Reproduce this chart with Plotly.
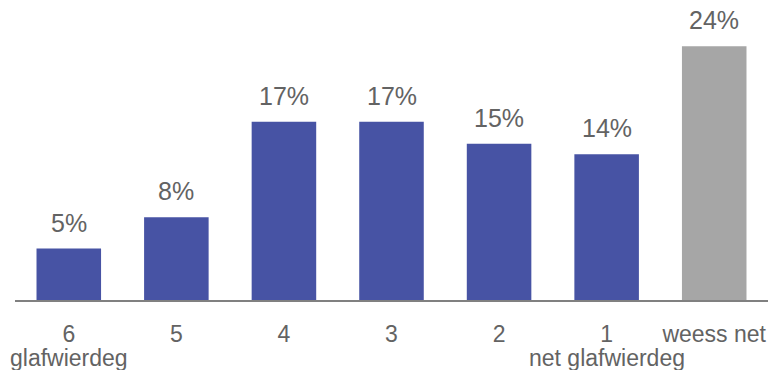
import plotly.graph_objects as go

categories = ["6", "5", "4", "3", "2", "1", "weess net"]
sublabels = ["glafwierdeg", "", "", "", "", "net glafwierdeg", ""]
values = [4.9, 7.9, 17.0, 17.0, 14.9, 13.9, 24.2]
labels = ["5%", "8%", "17%", "17%", "15%", "14%", "24%"]
colors = ["#4753A4"] * 6 + ["#A6A6A6"]

TEXT = "#636363"
FONT = "Liberation Sans, Arial"

fig = go.Figure(go.Bar(
    x=categories, y=values,
    marker=dict(color=colors, line=dict(width=0)),
    hoverinfo="skip",
))

for i, (v, t) in enumerate(zip(values, labels)):
    fig.add_annotation(x=i, y=v, text=t, showarrow=False, yanchor="bottom",
                       yshift=10, font=dict(family=FONT, size=25, color=TEXT))

for i, s in enumerate(sublabels):
    if s:
        fig.add_annotation(x=i, xref="x", y=0, yref="paper", text=s, showarrow=False,
                           yanchor="middle", yshift=-58,
                           font=dict(family=FONT, size=23, color=TEXT))

fig.update_layout(
    width=771, height=370,
    margin=dict(l=15, r=3, t=0, b=70, autoexpand=False),
    paper_bgcolor="white", plot_bgcolor="white",
    bargap=0.4, showlegend=False,
    font=dict(family=FONT, color=TEXT),
    xaxis=dict(type="category", categoryorder="array", categoryarray=categories,
               range=[-0.5, len(categories) - 0.5],
               tickmode="array", tickvals=categories, ticktext=categories,
               tickangle=0, automargin=False, ticklabelstandoff=12,
               showline=True, linecolor="#808080", linewidth=2, ticks="",
               tickfont=dict(size=23, color=TEXT), showgrid=False),
    yaxis=dict(range=[0, 28.6], visible=False, showgrid=False, zeroline=False),
)

fig.write_html("out.html", config={"displayModeBar": False},
               post_script="document.body.style.margin='0';")
